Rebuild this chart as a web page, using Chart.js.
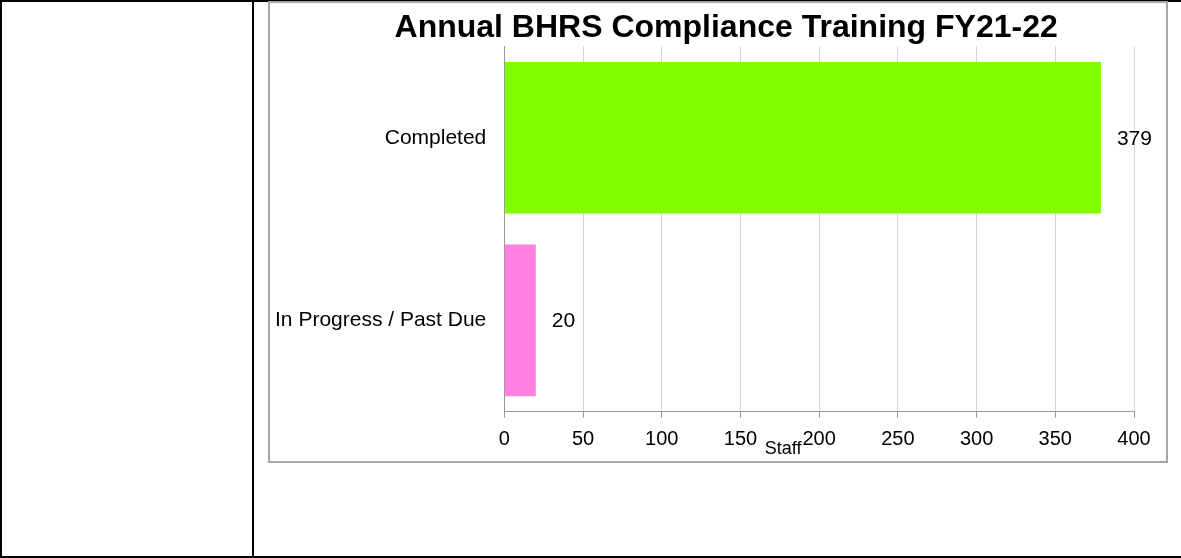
<!DOCTYPE html>
<html>
<head>
<meta charset="utf-8">
<script src="https://cdn.jsdelivr.net/npm/chart.js@4"></script>
<style>
  html, body { margin: 0; padding: 0; background: #fff; }
  body { width: 1181px; height: 558px; position: relative; overflow: hidden; }
  .frame { position: absolute; left: 0; top: 0; width: 1181px; height: 558px; box-sizing: border-box;
           border-left: 2px solid #000; border-top: 2px solid #000; border-bottom: 2px solid #000; }
  .vline { position: absolute; left: 252px; top: 0; width: 2px; height: 558px; background: #000; }
  .box { position: absolute; left: 268px; top: 1px; width: 900px; height: 462px; box-sizing: border-box;
         border: 2px solid #a6a6a6; background: #fff; }
  #chart { position: absolute; left: 270px; top: 3px; }
</style>
</head>
<body>
<div class="frame"></div>
<div class="vline"></div>
<div class="box"></div>
<canvas id="chart" width="896" height="458"></canvas>
<script>
const chartTitle = 'Annual BHRS Compliance Training FY21-22';
const categories = ['Completed', 'In Progress / Past Due'];
const staffCounts = [379, 20];
const barColors = ['#80FF00', '#FF80DF'];
const xAxisTitle = 'Staff';
const xMin = 0, xMax = 400, xStep = 50;

const FONT = "'Liberation Sans', Arial, Helvetica, sans-serif";

const valueLabels = {
  id: 'valueLabels',
  afterDatasetsDraw(chart) {
    const ctx = chart.ctx;
    const meta = chart.getDatasetMeta(0);
    ctx.save();
    ctx.font = '21px ' + FONT;
    ctx.fillStyle = '#000';
    ctx.textAlign = 'left';
    ctx.textBaseline = 'middle';
    meta.data.forEach((bar, i) => {
      ctx.fillText(String(chart.data.datasets[0].data[i]), bar.x + 16, bar.y + 1);
    });
    ctx.restore();
  }
};

const titles = {
  id: 'titles',
  afterDraw(chart) {
    const ctx = chart.ctx;
    const a = chart.chartArea;
    ctx.save();
    ctx.fillStyle = '#000';
    // chart title
    ctx.font = 'bold 32px ' + FONT;
    ctx.textAlign = 'center';
    ctx.textBaseline = 'middle';
    ctx.fillText(chartTitle, (a.left + a.right) / 2 - 93, a.top - 18.5);
    // x axis title
    ctx.font = '18px ' + FONT;
    ctx.textBaseline = 'alphabetic';
    ctx.fillText(xAxisTitle, (a.left + a.right) / 2 - 36, a.bottom + 42);
    ctx.restore();
  }
};

new Chart(document.getElementById('chart'), {
  type: 'bar',
  data: {
    labels: categories,
    datasets: [{
      data: staffCounts,
      backgroundColor: barColors,
      borderWidth: 0,
      categoryPercentage: 1,
      barPercentage: 0.83
    }]
  },
  options: {
    indexAxis: 'y',
    responsive: false,
    maintainAspectRatio: false,
    devicePixelRatio: 1,
    animation: false,
    layout: { padding: { left: 0, right: 32, top: 43.4, bottom: 0 } },
    plugins: {
      legend: { display: false },
      tooltip: { enabled: false },
      title: { display: false }
    },
    scales: {
      x: {
        min: xMin,
        max: xMax,
        ticks: { stepSize: xStep, color: '#000', font: { family: FONT, size: 20 }, padding: 10, maxRotation: 0 },
        grid: { color: '#d4d4d4', tickColor: '#999', tickLength: 6, drawTicks: true },
        border: { display: true, color: '#999', width: 1 },
        afterFit(scale) { scale.height = 49.3; }
      },
      y: {
        ticks: { color: '#000', font: { family: FONT, size: 21 }, padding: 18 },
        grid: { display: false, drawTicks: false },
        border: { display: true, color: '#999', width: 1 },
        afterFit(scale) { scale.width = 234.3; }
      }
    }
  },
  plugins: [valueLabels, titles]
});
</script>
</body>
</html>
